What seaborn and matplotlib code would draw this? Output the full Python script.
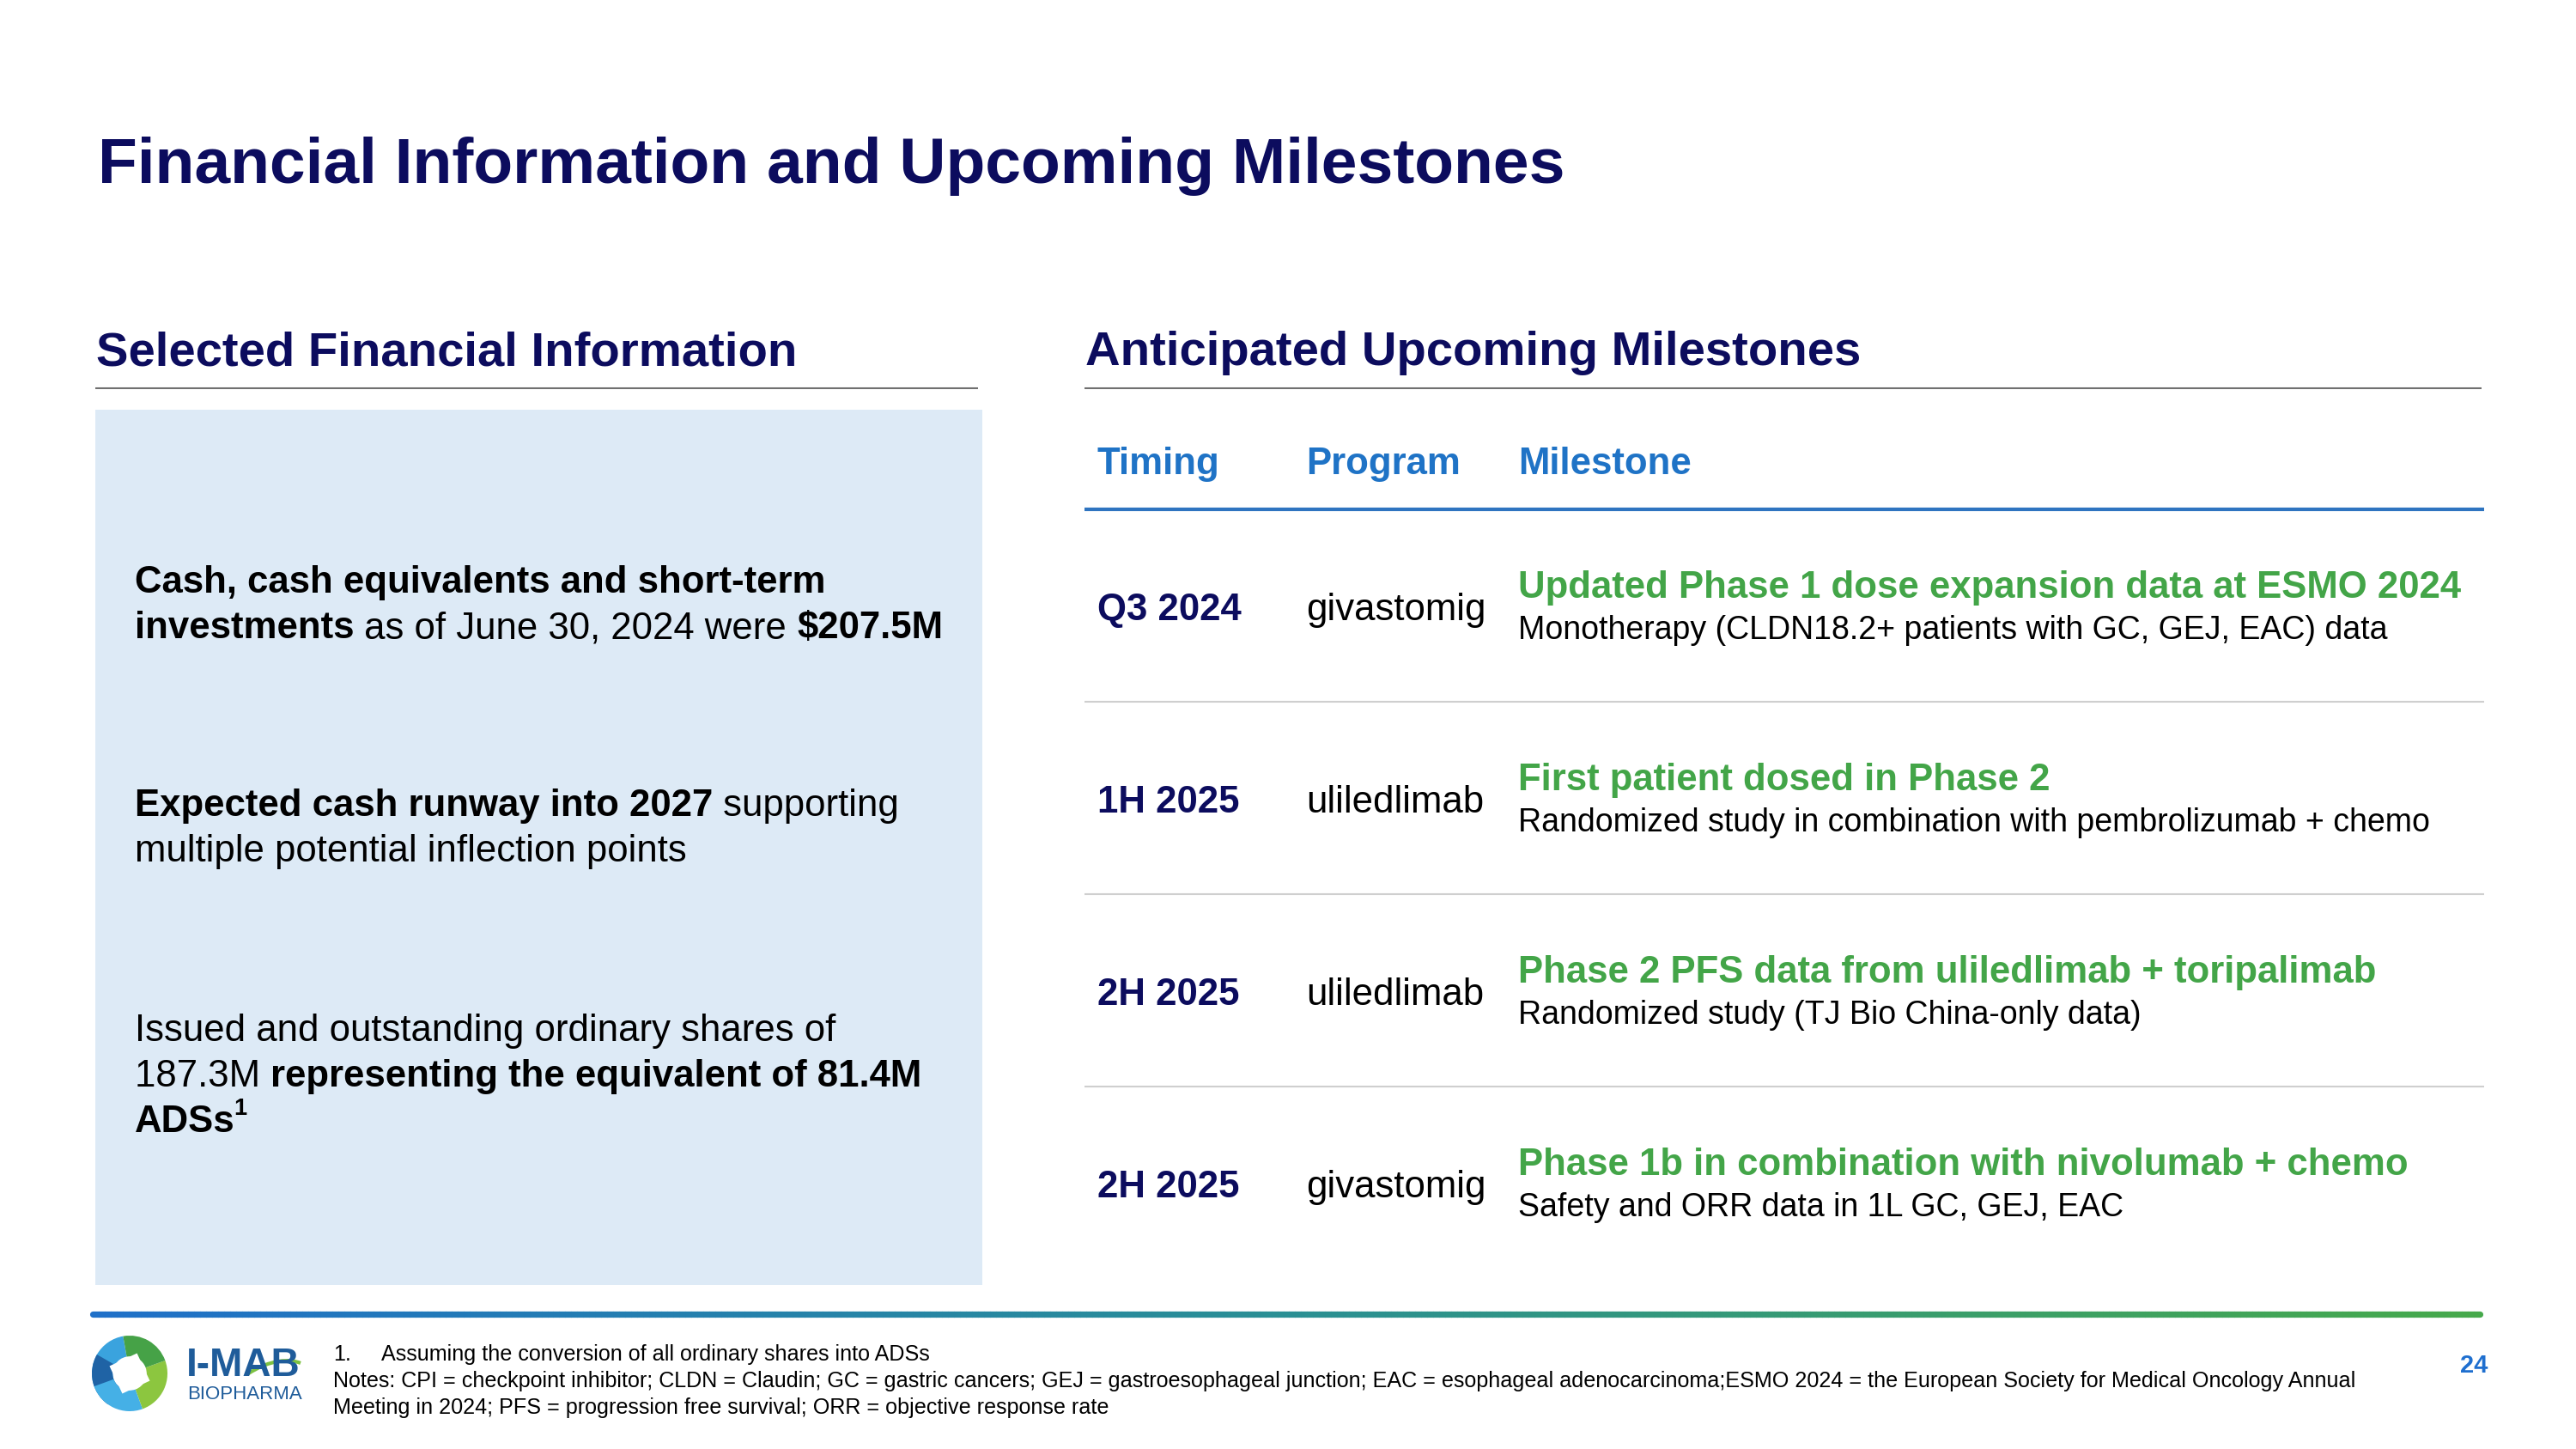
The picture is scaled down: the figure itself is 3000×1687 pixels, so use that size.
"""
plot.py

Rebuilds the "Financial Information and Upcoming Milestones" slide as a
3000x1687 image (out.png). Everything is drawn on one full-figure axes
whose data units are pixels, y pointing down.
"""

import matplotlib
matplotlib.use("Agg")

import numpy as np
import pandas as pd
import matplotlib.pyplot as plt
import seaborn as sns
from matplotlib.patches import Rectangle, Wedge, RegularPolygon, PathPatch
from matplotlib.collections import LineCollection
from matplotlib.colors import LinearSegmentedColormap
from matplotlib.path import Path

# ---- slide content --------------------------------------------------------
TITLE = "Financial Information and Upcoming Milestones"
LEFT_HEADING = "Selected Financial Information"
RIGHT_HEADING = "Anticipated Upcoming Milestones"

# ** marks bold runs, ^ marks a superscript footnote reference
FIN_BLOCKS = [
    ["**Cash, cash equivalents and short-term**",
     "**investments** as of June 30, 2024 were **$207.5M**"],
    ["**Expected cash runway into 2027** supporting",
     "multiple potential inflection points"],
    ["Issued and outstanding ordinary shares of",
     "187.3M **representing the equivalent of 81.4M**",
     "**ADSs**^1"],
]

HEADERS = ["Timing", "Program", "Milestone"]
TIMING = ["Q3 2024", "1H 2025", "2H 2025", "2H 2025"]
PROGRAM = ["givastomig", "uliledlimab", "uliledlimab", "givastomig"]
MILESTONE = [
    "Updated Phase 1 dose expansion data at ESMO 2024",
    "First patient dosed in Phase 2",
    "Phase 2 PFS data from uliledlimab + toripalimab",
    "Phase 1b in combination with nivolumab + chemo",
]
DETAIL = [
    "Monotherapy (CLDN18.2+ patients with GC, GEJ, EAC) data",
    "Randomized study in combination with pembrolizumab + chemo",
    "Randomized study (TJ Bio China-only data)",
    "Safety and ORR data in 1L GC, GEJ, EAC",
]

FOOTNOTE_NUM = "1."
FOOTNOTE = "Assuming the conversion of all ordinary shares into ADSs"
NOTES = [
    "Notes: CPI = checkpoint inhibitor; CLDN = Claudin; GC = gastric cancers; "
    "GEJ = gastroesophageal junction; EAC = esophageal adenocarcinoma;ESMO 2024 = "
    "the European Society for Medical Oncology Annual",
    "Meeting in 2024; PFS = progression free survival; ORR = objective response rate",
]
PAGE = "24"

# ---- colours --------------------------------------------------------------
NAVY = "#0c0c5e"
BLUE = "#1f73c6"
GREEN = "#43a548"
BOX = "#ddeaf6"
LOGO_BLUE = "#1f5c9a"

sns.set_theme(style="white")
plt.rcParams["font.family"] = ["Liberation Sans", "DejaVu Sans"]

W, H = 3000, 1687
fig = plt.figure(figsize=(W / 100, H / 100), dpi=100)
ax = fig.add_axes([0, 0, 1, 1])
ax.set_xlim(0, W)
ax.set_ylim(H, 0)
ax.axis("off")
renderer = fig.canvas.get_renderer()


def rich_line(x, y, line, size, color="black"):
    """Draw a line with **bold** runs and an optional ^superscript tail."""
    sup = None
    if "^" in line:
        line, sup = line.split("^", 1)
    for i, chunk in enumerate(line.split("**")):
        if not chunk:
            continue
        t = ax.text(x, y, chunk, fontsize=size, color=color,
                    fontweight="bold" if i % 2 else "normal",
                    ha="left", va="baseline")
        x += t.get_window_extent(renderer).width
    if sup:
        ax.text(x - 1, y - size * 0.62, sup, fontsize=size * 0.62, color=color,
                fontweight="bold", ha="left", va="baseline")


# ---- titles ---------------------------------------------------------------
ax.text(114, 213, TITLE, fontsize=54, fontweight="bold", color=NAVY,
        ha="left", va="baseline")
ax.text(112, 425, LEFT_HEADING, fontsize=40.5, fontweight="bold", color=NAVY,
        ha="left", va="baseline")
ax.text(1264, 425, RIGHT_HEADING, fontsize=40.5, fontweight="bold", color=NAVY,
        ha="left", va="baseline")
ax.hlines(452, 111, 1139, color="#707070", lw=1.5)
ax.hlines(452, 1263, 2890, color="#707070", lw=1.5)

# ---- left panel -----------------------------------------------------------
ax.add_patch(Rectangle((111, 477), 1033, 1019, facecolor=BOX, edgecolor="none"))
first_baselines = [690, 950, 1212]
for base, block in zip(first_baselines, FIN_BLOCKS):
    for k, line in enumerate(block):
        rich_line(157, base + 53 * k, line, 31.5)

# ---- milestone table ------------------------------------------------------
col_x = [1278, 1521, 1768]
for x, label in zip(col_x, HEADERS):
    ax.text(x, 552, label, fontsize=31.5, fontweight="bold", color=BLUE,
            ha="left", va="baseline")
ax.hlines(593, 1263, 2893, color="#2f74c0", lw=3)

table = pd.DataFrame({"timing": TIMING, "program": PROGRAM,
                      "milestone": MILESTONE, "detail": DETAIL})
row_step = 224
for i, row in table.iterrows():
    off = i * row_step
    ax.text(col_x[0], 722 + off, row["timing"], fontsize=31.5, fontweight="bold",
            color=NAVY, ha="left", va="baseline")
    ax.text(col_x[1], 722 + off, row["program"], fontsize=31.5, color="black",
            ha="left", va="baseline")
    ax.text(col_x[2], 696 + off, row["milestone"], fontsize=31.5,
            fontweight="bold", color=GREEN, ha="left", va="baseline")
    ax.text(col_x[2], 744 + off, row["detail"], fontsize=27, color="black",
            ha="left", va="baseline")
    if i < len(table) - 1:
        ax.hlines(817 + off, 1263, 2893, color="#cfcfcf", lw=1.5)

# ---- footer gradient rule -------------------------------------------------
grad = LinearSegmentedColormap.from_list("rule", ["#1f70c8", "#2a8f94", "#46a94b"])
xs = np.linspace(108, 2888, 400)
segs = [[(xs[j], 1530), (xs[j + 1], 1530)] for j in range(len(xs) - 1)]
lc = LineCollection(segs, colors=grad(np.linspace(0, 1, len(segs))),
                    linewidths=5.2, capstyle="round")
ax.add_collection(lc)

# ---- logo -----------------------------------------------------------------
cx, cy, r = 151, 1599, 44
# screen angles (counter-clockwise from 3 o'clock); y is flipped so negate
pieces = [(100, 200, "#3aa3de"), (150, 235, "#1f63a5"), (200, 290, "#45b0e6"),
          (290, 380, "#8cc63f"), (20, 100, "#46a247")]
for a0, a1, col in pieces:
    ax.add_patch(Wedge((cx, cy), r, -a1, -a0, width=r * 0.55,
                       facecolor=col, edgecolor="none"))
ax.add_patch(RegularPolygon((cx, cy), 4, radius=25, orientation=np.pi / 9,
                            facecolor="white", edgecolor="none"))
ax.text(217, 1602, "I-MAB", fontsize=33, fontweight="bold", color=LOGO_BLUE,
        ha="left", va="baseline")
swoosh = Path([(288, 1600), (315, 1582), (338, 1582), (350, 1587)],
              [Path.MOVETO, Path.CURVE4, Path.CURVE4, Path.CURVE4])
ax.add_patch(PathPatch(swoosh, facecolor="none", edgecolor="#7dc242", lw=3))
ax.text(218, 1629, "BIOPHARMA", fontsize=16, color=LOGO_BLUE,
        ha="left", va="baseline")

# ---- footnotes ------------------------------------------------------------
ax.text(388, 1584, FOOTNOTE_NUM, fontsize=18.1, color="black", ha="left", va="baseline")
ax.text(444, 1584, FOOTNOTE, fontsize=18.1, color="black", ha="left", va="baseline")
for k, line in enumerate(NOTES):
    ax.text(388, 1615 + 31 * k, line, fontsize=18.1, color="black",
            ha="left", va="baseline")
ax.text(2881, 1598, PAGE, fontsize=21, fontweight="bold", color="#1f6fcf",
        ha="center", va="baseline")

fig.savefig("out.png", dpi=100)
plt.close(fig)
